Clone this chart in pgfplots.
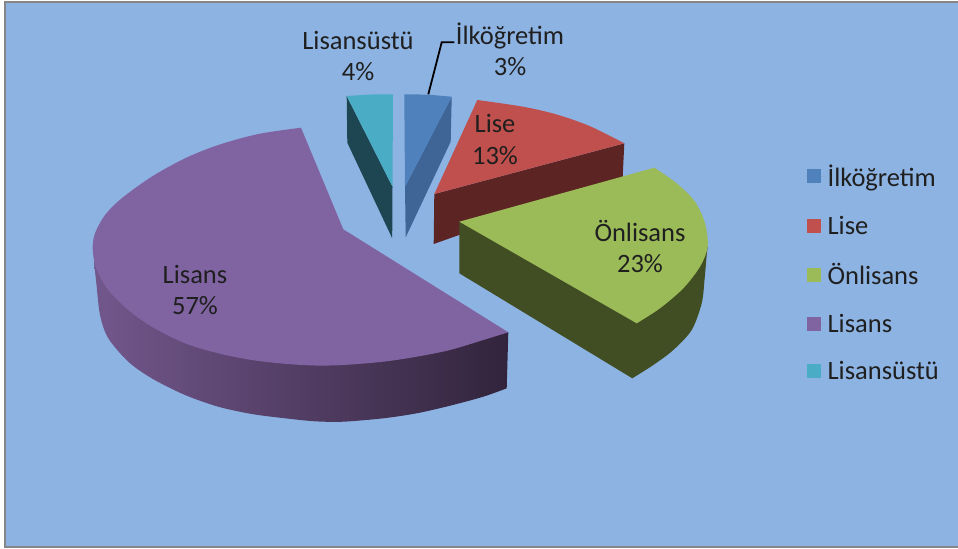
\documentclass[border=0pt]{standalone}
\usepackage{fontspec}
\setmainfont{Carlito}
\usepackage{pgfplots}
\pgfplotsset{compat=1.18}
\definecolor{bgc}{RGB}{141,179,226}
\definecolor{framec}{RGB}{134,134,134}
\definecolor{bluetop}{RGB}{79,129,189}
\definecolor{blueside}{RGB}{63,101,151}
\definecolor{redtop}{RGB}{192,80,77}
\definecolor{redside}{RGB}{92,36,35}
\definecolor{greentop}{RGB}{155,187,89}
\definecolor{greenside}{RGB}{65,77,35}
\definecolor{purptop}{RGB}{128,100,162}
\definecolor{purpL}{RGB}{114,87,140}
\definecolor{purpM}{RGB}{70,54,88}
\definecolor{purpR}{RGB}{50,36,60}
\definecolor{tealtop}{RGB}{75,172,198}
\definecolor{tealside}{RGB}{30,70,82}
\pgfplotsset{sq/.style={legend image code/.code={\fill[##1,draw=none] (0bp,-7bp) rectangle (14bp,7bp);\path (0bp,0bp) -- (19bp,0bp);}}}
\tikzset{lab/.style={align=center,font=\fontsize{26.5bp}{31.5bp}\selectfont,text=black!88,inner sep=0pt}}
\begin{document}
\begin{tikzpicture}
\begin{axis}[
  scale only axis, width=958bp, height=549bp,
  xmin=0, xmax=958, ymin=0, ymax=549, y dir=reverse,
  hide axis, clip=true,
  legend style={at={(axis cs:803.4,160.7)},anchor=north west,draw=none,fill=none,
    font=\fontsize{26.5bp}{28bp}\selectfont,text=black!88,row sep=23.8bp},
  legend cell align=left,
  every axis plot/.append style={sq},
]
% page and plot area
\addplot[forget plot,fill=white,draw=none] coordinates {(0,0) (958,0) (958,549) (0,549)} --cycle;
\addplot[forget plot,fill=bgc,draw=framec,line width=2bp] coordinates {(5,2) (965,2) (965,547) (5,547)} --cycle;

% Lisansüstü side
\addplot[forget plot,fill=tealside,draw=none] coordinates {(346.7,96) (392.5,186.7) (392.2,238.3) (347.3,142.7)} --cycle;
% İlköğretim side
\addplot[forget plot,fill=blueside,draw=none] coordinates {(451.7,96.7) (450.7,141.7) (405.7,237.3) (405,186.7)} --cycle;
% İlköğretim
\addplot[fill=bluetop,draw=none] coordinates {(404.3,94.3) (428,94.6) (451.7,96.7) (405,186.7)} --cycle;
\addlegendentry{İlköğretim}
% Lise
\addplot[forget plot,fill=redside,draw=none] coordinates {(434.3,194) (624.3,143.3) (622.7,176.7) (433.7,244)} --cycle;
\addplot[smooth,fill=redtop,draw=none] coordinates {(477.3,100) (523,106.7) (556.7,114.5) (590,126.2) (624.3,143.3)} -- (axis cs:434.3,194) -- cycle;
\addlegendentry{Lise}
% Önlisans
\addplot[forget plot,smooth,fill=greenside,draw=none] coordinates {(707.7,246.7) (706.7,255) (704.5,280) (701.7,303.3) (691.7,330) (673.3,350) (653.3,365) (632.3,378.3)} -- (axis cs:459.3,273.3) -- (axis cs:459.3,221.7) -- cycle;
\addplot[smooth,fill=greentop,draw=none] coordinates {(654.3,167.7) (676.7,183.3) (695,201.7) (705,223.3) (707.7,246.7) (700,266.7) (683.3,288.3) (660,308.3) (636.7,323.3)} -- (axis cs:459.3,221.7) -- cycle;
\addlegendentry{Önlisans}
% Lisans side
\addplot[forget plot,smooth,left color=purpL,middle color=purpM,right color=purpR,draw=none] coordinates {(94,262) (96,280) (100,315) (108.3,338.3) (128.3,361.7) (151.7,378.3) (185,395) (218.3,406.7) (251.7,414) (285,418.3) (315,421.3) (343.3,421.7) (383.3,418.3) (416.7,413.3) (450,405.7) (483.3,396.7) (506.7,388.3)} -- (axis cs:508.3,332.3) -- (axis cs:343.3,300) -- cycle;
% Lisans
\addplot[smooth,fill=purptop,draw=none] coordinates {(508.3,332.3) (483.3,340) (450,350) (416.7,356.7) (383.3,361.7) (343.3,365) (315,365.5) (285,363.8) (251.7,360) (218.3,353.3) (185,343.3) (151.7,326.7) (128.3,310) (108.3,290) (96,268) (92.7,248.3) (95,233.3) (105,215) (121.7,198.3) (151.7,176.7) (185,158.3) (218.3,145) (258.3,134) (301,127.7)} -- (axis cs:343.3,229.3) -- cycle;
\addlegendentry{Lisans}
% Lisansüstü top
\addplot[fill=tealtop,draw=none] coordinates {(346.7,96) (370,94.5) (393,94.3) (392.5,186.7)} --cycle;
\addlegendentry{Lisansüstü}
% leader line
\addplot[forget plot,black,line width=1.8bp] coordinates {(428.3,94.3) (441.7,42.3) (454.3,42.3)};
% labels
\node[lab] at (axis cs:358,56) {Lisansüstü\\4\%};
\node[lab] at (axis cs:510,49.5) {İlköğretim\\3\%};
\node[lab] at (axis cs:495,139.5) {Lise\\13\%};
\node[lab] at (axis cs:640,246.5) {Önlisans\\23\%};
\node[lab] at (axis cs:195,290) {Lisans\\57\%};
\end{axis}
\end{tikzpicture}
\end{document}
